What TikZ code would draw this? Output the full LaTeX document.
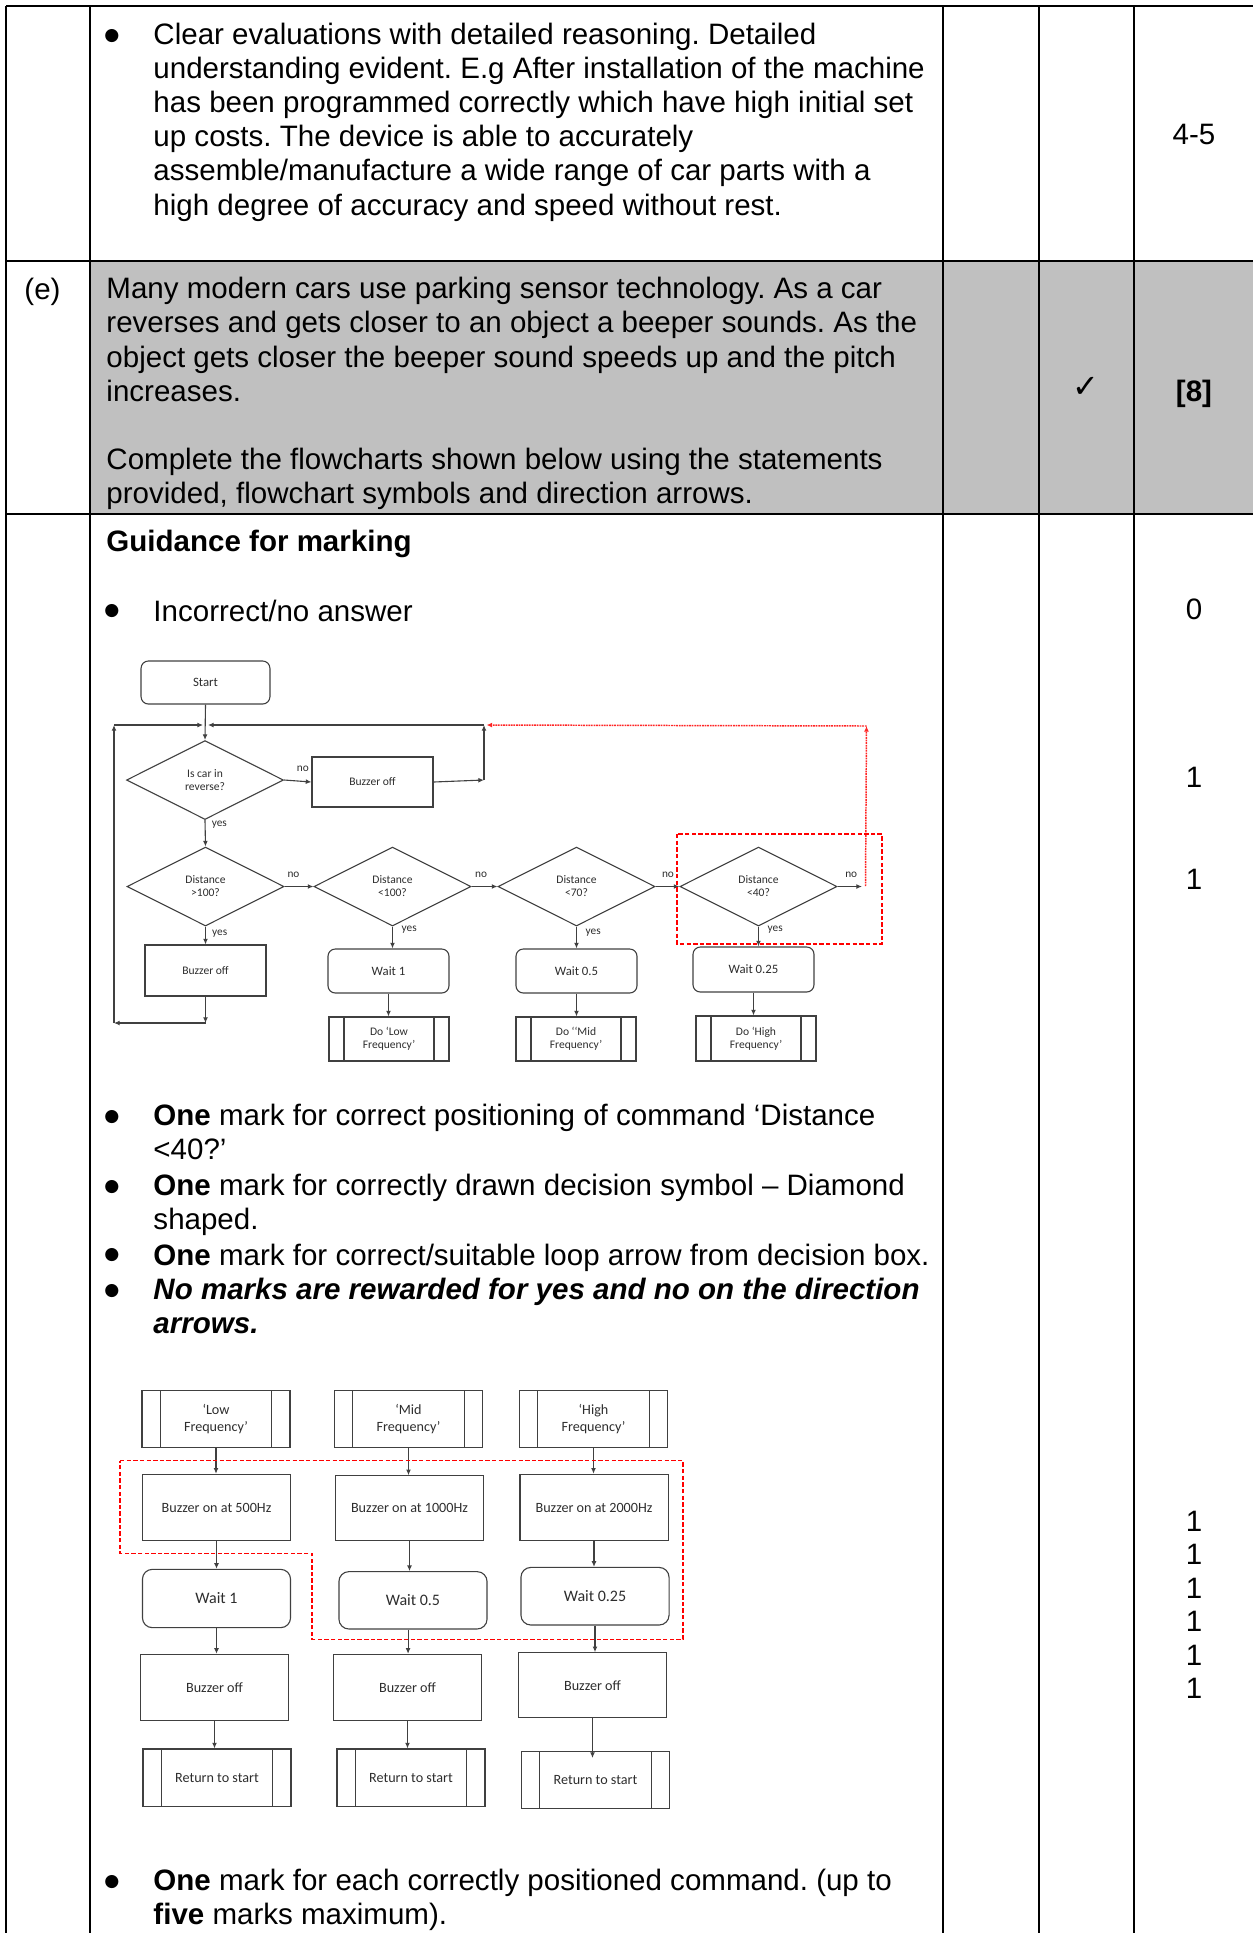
\documentclass[tikz,border=0pt]{standalone}
\usepackage{fontspec}
\setmainfont{Liberation Sans}
\newfontfamily\fcfont{Carlito}
\newfontfamily\tickfont{DejaVu Sans}
\usetikzlibrary{arrows.meta,shapes.geometric}
\definecolor{cellgray}{RGB}{192,192,192}
\definecolor{fcline}{RGB}{64,64,64}
\definecolor{fctext}{RGB}{45,45,45}
\definecolor{markred}{RGB}{255,0,0}
\frenchspacing
\newcommand{\bodysize}{\fontsize{12}{13.9}\selectfont}
\newcommand{\stacksize}{\fontsize{12}{13.6}\selectfont}
\newcommand{\bulsize}{\tickfont\fontsize{7}{8}\selectfont}
\newcommand{\fcsmall}{\fcfont\fontsize{4.7}{5.3}\selectfont}
\newcommand{\fcwait}{\fcfont\fontsize{5.2}{5.8}\selectfont}
\newcommand{\fclarge}{\fcfont\fontsize{5.75}{6.9}\selectfont}
\newcommand{\fcwaitL}{\fcfont\fontsize{6.5}{7.2}\selectfont}
\newcommand{\fclabel}{\fcfont\fontsize{4.6}{5}\selectfont}
\tikzset{
    %Define standard arrow tip
    >={Latex[length=2.3pt,width=2pt]},
    %Define style for text blocks
    para/.style={anchor=north west, inner sep=0pt, align=left, font=\bodysize, execute at begin node=\strut},
    bul/.style={anchor=base, inner sep=0pt, font=\bulsize},
    markcol/.style={anchor=base, inner sep=0pt, font=\bodysize},
    %Define style for flowchart boxes
    fcbox/.style={rectangle, draw=fcline, line width=0.45pt, inner sep=0pt, text=fctext, align=center, font=\fcsmall},
    fcround/.style={fcbox, rounded corners=3pt, font=\fcwait},
    fcdec/.style={diamond, draw=fcline, line width=0.45pt, inner sep=0pt, text=fctext, align=center,
           font=\fcsmall, minimum width=63.8pt, minimum height=32.1pt},
    fcpre/.style={fcbox, path picture={
           \draw[fcline, line width=0.45pt] ([xshift=#1]path picture bounding box.south west) -- ([xshift=#1]path picture bounding box.north west);
           \draw[fcline, line width=0.45pt] ([xshift=-#1]path picture bounding box.south east) -- ([xshift=-#1]path picture bounding box.north east);}},
    % Define arrow style
    fcarr/.style={->, draw=fcline, line width=0.45pt},
    loopred/.style={->, draw=markred!85, line width=0.6pt, dash pattern=on 0.7pt off 0.35pt},
    hilite/.style={draw=markred, line width=0.6pt, dash pattern=on 1.8pt off 0.9pt},
    lbl/.style={font=\fclabel, text=fctext, inner sep=1pt},
}

\begin{document}
\begin{tikzpicture}[x=0.4065pt, y=-0.4065pt]
    \useasboundingbox (0,0) rectangle (1253,1933);
    % table
    \fill[cellgray] (90,261) rectangle (1253,514);
    \draw[line width=0.8pt] (6,6) -- (1253,6);
    \draw[line width=0.8pt] (6,261) -- (1253,261);
    \draw[line width=0.8pt] (6,514) -- (1253,514);
    \foreach \cx in {6,90,943,1039,1134}
        \draw[line width=0.6pt] (\cx,6) -- (\cx,1933);

    % row 1
    \node[bul] (bulA) at (112,40) {●};
    \node[para] (evalText) at (153,22.2) {Clear evaluations with detailed reasoning. Detailed\\understanding evident. E.g After installation of the machine\\has been programmed correctly which have high initial set\\up costs. The device is able to accurately\\assemble/manufacture a wide range of car parts with a\\high degree of accuracy and speed without rest.};
    \node[markcol] (markA) at (1194,144) {4-5};

    % row 2
    \node[anchor=base west, inner sep=0pt, font=\bodysize] (partE) at (24,299) {(e)};
    \node[para] (question) at (106,276.9) {Many modern cars use parking sensor technology. As a car\\reverses and gets closer to an object a beeper sounds. As the\\object gets closer the beeper sound speeds up and the pitch\\increases.\\\strut\\Complete the flowcharts shown below using the statements\\provided, flowchart symbols and direction arrows.};
    \node[inner sep=0pt, font=\tickfont\fontsize{13}{14}\selectfont] (tick) at (1086,387) {✓};
    \node[markcol] (markE) at (1194,401) {\textbf{[8]}};

    % row 3
    \node[para] (guide) at (106,527.2) {\textbf{Guidance for marking}};
    \node[bul] (bulB) at (112,615) {●};
    \node[para] (noAns) at (153,597.2) {Incorrect/no answer};
    \node[markcol] (markZero) at (1194,619) {0};
    \node[markcol] (markOneA) at (1194,787) {1};
    \node[markcol] (markOneB) at (1194,889) {1};

    % flowchart 1
    \node[fcround, minimum width=52.4pt, minimum height=17.5pt] (start) at (205.5,682.5) {Start};
    \node[fcdec] (rev) at (205,780) {Is car in\\reverse?};
    \node[fcbox, minimum width=49.2pt, minimum height=20.3pt] (offA) at (372.5,782) {Buzzer off};
    \node[fcdec] (dA) at (205.5,886.5) {Distance\\>100?};
    \node[fcdec] (dB) at (392.5,886.5) {Distance\\<100?};
    \node[fcdec] (dC) at (576.5,886.5) {Distance\\<70?};
    \node[fcdec] (dD) at (758.5,886.5) {Distance\\<40?};
    \node[fcbox, minimum width=49.2pt, minimum height=20.7pt] (offB) at (205.5,970.5) {Buzzer off};
    \node[fcround, minimum width=49.2pt, minimum height=17.9pt] (waitA) at (388.5,971) {Wait 1};
    \node[fcround, minimum width=49.2pt, minimum height=17.9pt] (waitB) at (576.5,971) {Wait 0.5};
    \node[fcround, minimum width=49.2pt, minimum height=18.3pt] (waitC) at (753.5,969.5) {Wait 0.25};
    \node[fcpre=6.1pt, minimum width=48.8pt, minimum height=17.9pt] (doLow) at (389,1039) {Do ‘Low\\Frequency’};
    \node[fcpre=6.1pt, minimum width=48.8pt, minimum height=17.9pt] (doMid) at (576,1039) {Do ‘‘Mid\\Frequency’};
    \node[fcpre=6.1pt, minimum width=48.8pt, minimum height=18.3pt] (doHigh) at (756,1038.5) {Do ‘High\\Frequency’};
    \coordinate (jn) at (205.5,725);
    \coordinate (topL) at (114,725);
    \coordinate (botL) at (114,1023);
    \coordinate (botM) at (205.5,1023);
    \coordinate (topR) at (484,725);
    \coordinate (midR) at (484,780);
    \coordinate (noEnd) at (862,886.5);
    \coordinate (loopA) at (865.5,886);
    \coordinate (loopB) at (866.5,726);

    \draw[fcarr] (start.south) -- (rev.north);
    \draw[fcarr] (rev.east) -- node[lbl, above=2.6pt, pos=0.69] {no} (offA.west);
    \draw[fcarr] (rev.south) -- node[lbl, right=1.5pt, pos=0.18] {yes} (dA.north);
    \draw[fcarr] (offA.east) -- (midR);
    \draw[fcarr] (midR) -- (topR);
    \draw[fcarr] (topR) -- ([xshift=1pt]jn);
    \draw[fcarr] (dA.east) -- node[lbl, above=2.6pt, pos=0.31] {no} (dB.west);
    \draw[fcarr] (dB.east) -- node[lbl, above=2.6pt, pos=0.37] {no} (dC.west);
    \draw[fcarr] (dC.east) -- node[lbl, above=2.6pt, pos=0.52] {no} (dD.west);
    \draw[fcarr] (dD.east) -- node[lbl, above=2.6pt, pos=0.56] {no} (noEnd);
    \draw[fcarr] (dA.south) -- node[lbl, right=1.5pt, pos=0.37] {yes} (offB.north);
    \draw[fcarr] (dB.south) -- node[lbl, right=2.5pt, pos=0.13] {yes} (dB.south |- waitA.north);
    \draw[fcarr] (dC.south) -- node[lbl, right=2.5pt, pos=0.3] {yes} (dC.south |- waitB.north);
    \draw[fcarr] (dD.south) -- node[lbl, right=2.5pt, pos=0.14] {yes} (dD.south |- waitC.north);
    \draw[fcarr] (waitA.south) -- (waitA.south |- doLow.north);
    \draw[fcarr] (waitB.south) -- (waitB.south |- doMid.north);
    \draw[fcarr] (waitC.south) -- (waitC.south |- doHigh.north);
    \draw[fcarr] (offB.south) -- (botM);
    \draw[fcarr] (botM) -- (botL);
    \draw[fcarr] (botL) -- (topL);
    \draw[fcarr] (topL) -- ([xshift=-1pt]jn);
    \draw[loopred] (loopA) -- (loopB);
    \draw[loopred] (loopB) -- ([xshift=1pt]topR);
    \draw[hilite] (677,834) rectangle (882,944);

    % bullets under flowchart 1
    \node[bul] (bulC) at (112,1121) {●};
    \node[para] (ruleA) at (153,1103.2) {\textbf{One} mark for correct positioning of command ‘Distance\\<40?’};
    \node[bul] (bulD) at (112,1191) {●};
    \node[para] (ruleB) at (153,1173.2) {\textbf{One} mark for correctly drawn decision symbol – Diamond\\shaped.};
    \node[bul] (bulE) at (112,1259) {●};
    \node[para] (ruleC) at (153,1241.2) {\textbf{One} mark for correct/suitable loop arrow from decision box.};
    \node[bul] (bulF) at (112,1295) {●};
    \node[para, font=\bodysize\bfseries\itshape] (ruleD) at (153,1277.2) {No marks are rewarded for yes and no on the direction\\arrows.};

    % flowchart 2
    \node[fcpre=7.5pt, font=\fclarge, minimum width=60.2pt, minimum height=23.3pt] (lowF) at (216,1418.7) {‘Low\\Frequency’};
    \node[fcpre=7.5pt, font=\fclarge, minimum width=60.2pt, minimum height=23.3pt] (midF) at (408.5,1418.7) {‘Mid\\Frequency’};
    \node[fcpre=7.5pt, font=\fclarge, minimum width=60.2pt, minimum height=23.3pt] (highF) at (593.5,1418.7) {‘High\\Frequency’};
    \node[fcbox, font=\fclarge, minimum width=60.2pt, minimum height=27pt] (onA) at (216.5,1507.5) {Buzzer on at 500Hz};
    \node[fcbox, font=\fclarge, minimum width=60.2pt, minimum height=26.4pt] (onB) at (409.5,1508.2) {Buzzer on at 1000Hz};
    \node[fcbox, font=\fclarge, minimum width=60.2pt, minimum height=27pt] (onC) at (594,1507.5) {Buzzer on at 2000Hz};
    \node[fcround, font=\fcwaitL, rounded corners=4pt, minimum width=60.2pt, minimum height=23.7pt] (wA) at (216.5,1598.5) {Wait 1};
    \node[fcround, font=\fcwaitL, rounded corners=4pt, minimum width=60.2pt, minimum height=23.3pt] (wB) at (413,1600.3) {Wait 0.5};
    \node[fcround, font=\fcwaitL, rounded corners=4pt, minimum width=60.2pt, minimum height=23.4pt] (wC) at (595,1596.2) {Wait 0.25};
    \node[fcbox, font=\fclarge, minimum width=60.2pt, minimum height=26.7pt] (xA) at (214.5,1687.2) {Buzzer off};
    \node[fcbox, font=\fclarge, minimum width=60.2pt, minimum height=26.7pt] (xB) at (407.5,1687.2) {Buzzer off};
    \node[fcbox, font=\fclarge, minimum width=60.2pt, minimum height=26.4pt] (xC) at (592.5,1685.2) {Buzzer off};
    \node[fcpre=7.5pt, font=\fclarge, minimum width=60.2pt, minimum height=23.2pt] (rA) at (217,1777.5) {Return to start};
    \node[fcpre=7.5pt, font=\fclarge, minimum width=60.2pt, minimum height=23.2pt] (rB) at (411,1777.5) {Return to start};
    \node[fcpre=7.5pt, font=\fclarge, minimum width=60.2pt, minimum height=23.2pt] (rC) at (595.5,1779.7) {Return to start};

    \draw[fcarr] (lowF.south) -- (lowF.south |- onA.north);
    \draw[fcarr] (onA.south) -- (onA.south |- wA.north);
    \draw[fcarr] (wA.south) -- (wA.south |- xA.north);
    \draw[fcarr] (xA.south) -- (xA.south |- rA.north);
    \draw[fcarr] (midF.south) -- (midF.south |- onB.north);
    \draw[fcarr] (onB.south) -- (onB.south |- wB.north);
    \draw[fcarr] ([xshift=-2pt]wB.south) -- ([xshift=-2pt]wB.south |- xB.north);
    \draw[fcarr] (xB.south) -- (xB.south |- rB.north);
    \draw[fcarr] (highF.south) -- (highF.south |- onC.north);
    \draw[fcarr] (onC.south) -- (onC.south |- wC.north);
    \draw[fcarr] (wC.south) -- (wC.south |- xC.north);
    \draw[fcarr] (xC.south) -- ([yshift=-3pt]xC.south |- rC.north);
    \draw[hilite] (120,1460.7) -- (683,1460.7) -- (683,1639.3) -- (312,1639.3) -- (312,1553.3) -- (120,1553.3) -- cycle;

    % marks for flowchart 2
    \node[anchor=north, inner sep=0pt, align=center, font=\stacksize, execute at begin node=\strut] (markStack) at (1194,1510.6) {1\\1\\1\\1\\1\\1};

    % last bullet
    \node[bul] (bulG) at (112,1886) {●};
    \node[para] (ruleE) at (153,1868.2) {\textbf{One} mark for each correctly positioned command. (up to\\\textbf{five} marks maximum).};
\end{tikzpicture}
\end{document}
